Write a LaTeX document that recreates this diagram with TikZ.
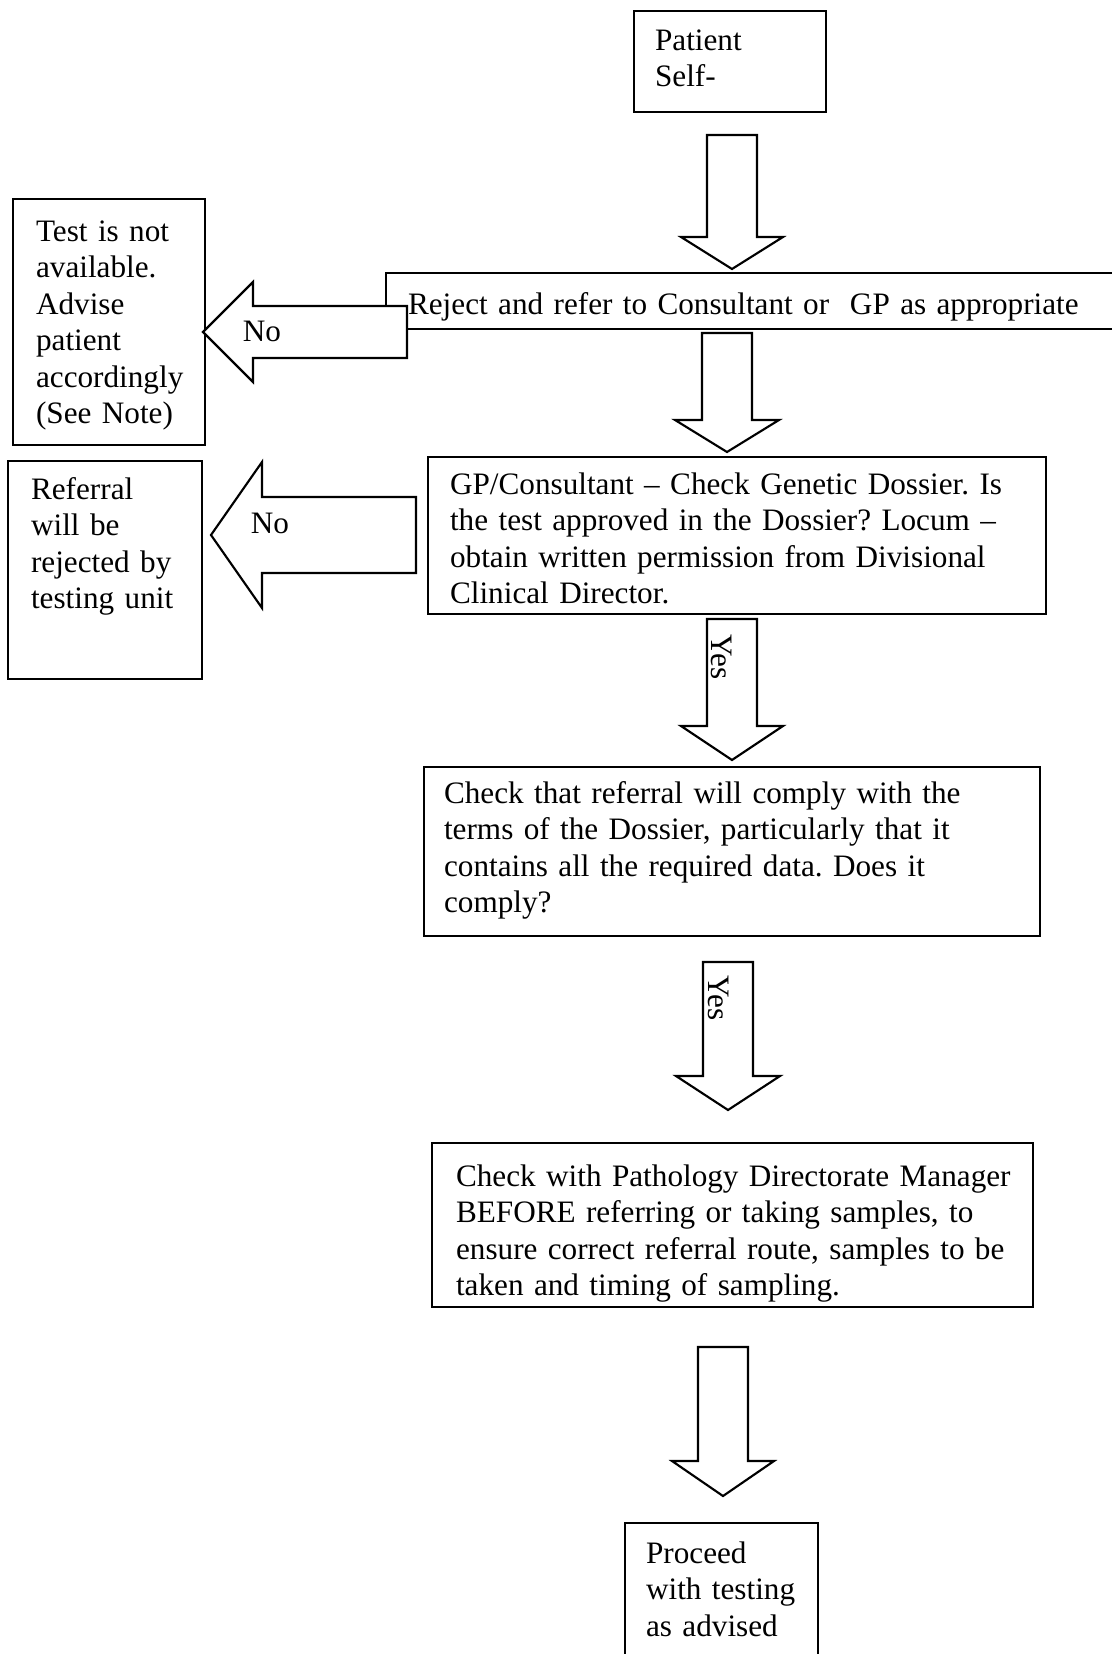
\documentclass[tikz,border=0pt]{standalone}
\usepackage{fontspec}
\setmainfont{Liberation Serif}
\frenchspacing

\tikzset{
  flowbox/.style={draw, line width=0.8pt, anchor=north west, align=left,
    inner ysep=0pt, font=\fontsize{11.7}{13.7}\selectfont},
  fatarrowline/.style={draw, fill=white, line width=0.8pt, line join=miter},
  arrowlabel/.style={font=\fontsize{11.7}{13.7}\selectfont, inner sep=0pt}
}
% block arrow: tail, angle, shaft half width, head half width, shaft length, total length
\newcommand{\fatarrow}[6]{%
  \draw[fatarrowline, shift={(#1)}, rotate=#2]
    (0,-#3) -- (#5,-#3) -- (#5,-#4) -- (#6,0) -- (#5,#4) -- (#5,#3) -- (0,#3) -- cycle;}

\begin{document}
\begin{tikzpicture}[x=0.375pt, y=-0.375pt]
\useasboundingbox (0,0) rectangle (1111,1654);

% boxes
\node[flowbox, inner xsep=7.875pt, text width=56.25pt, text height=14.625pt, text depth=23.25pt]
  (patient) at (633,10) {Patient\\Self-};
\node[flowbox, inner xsep=8.625pt, text width=54.75pt, text height=15.75pt, text depth=76.5pt]
  (notavail) at (12,198) {Test is not\\available.\\Advise\\patient\\accordingly\\(See Note)};
\node[flowbox, inner xsep=8.625pt, text width=55.5pt, text height=14.25pt, text depth=67.5pt]
  (rejected) at (7,460) {Referral\\will be\\\mbox{rejected by}\\\mbox{testing unit}};
\node[flowbox, inner xsep=8.25pt, text width=261pt, text height=15.375pt, text depth=5.625pt]
  (reject) at (385,272) {\mbox{Reject and refer to Consultant or\ \ GP as appropriate}};
\node[flowbox, inner xsep=8.25pt, text width=215.25pt, text height=13.875pt, text depth=45pt]
  (dossier) at (427,456) {GP/Consultant -- Check Genetic Dossier. Is\\the test approved in the Dossier? Locum --\\obtain written permission from Divisional\\Clinical Director.};
\node[flowbox, inner xsep=7.5pt, text width=216pt, text height=13.5pt, text depth=49.875pt]
  (comply) at (423,766) {Check that referral will comply with the\\terms of the Dossier, particularly that it\\contains all the required data. Does it\\comply?};
\node[flowbox, inner xsep=9pt, text width=207.375pt, text height=16.125pt, text depth=45.375pt]
  (manager) at (431,1142) {\mbox{Check with Pathology Directorate Manager}\\\mbox{BEFORE referring or taking samples, to}\\\mbox{ensure correct referral route, samples to be}\\\mbox{taken and timing of sampling.}};
\node[flowbox, inner xsep=7.875pt, text width=56.625pt, text height=15pt, text depth=38.625pt]
  (proceed) at (624,1522) {Proceed\\\mbox{with testing}\\as advised};

% arrows
\coordinate (a1) at (732,135);
\coordinate (a2) at (727,333);
\coordinate (y1) at (732,619);
\coordinate (y2) at (728,962);
\coordinate (a5) at (723,1347);
\coordinate (n1) at (407,332);
\coordinate (n2) at (416,535);

\fatarrow{a1}{-90}{25}{51}{102}{134}
\fatarrow{a2}{-90}{25}{52}{87}{119}
\fatarrow{y1}{-90}{25}{51}{107}{141}
\fatarrow{y2}{-90}{25}{52}{114}{148}
\fatarrow{a5}{-90}{25}{51}{114}{149}
\fatarrow{n1}{180}{26}{50}{154}{204}
\fatarrow{n2}{180}{38}{73}{154}{205}

% labels
\node[arrowlabel, anchor=base] (no1) at (262,342) {No};
\node[arrowlabel, anchor=base] (no2) at (270,533) {No};
\node[arrowlabel, rotate=-90] (yes1) at (722,657) {Yes};
\node[arrowlabel, rotate=-90] (yes2) at (719,998) {Yes};
\end{tikzpicture}
\end{document}
